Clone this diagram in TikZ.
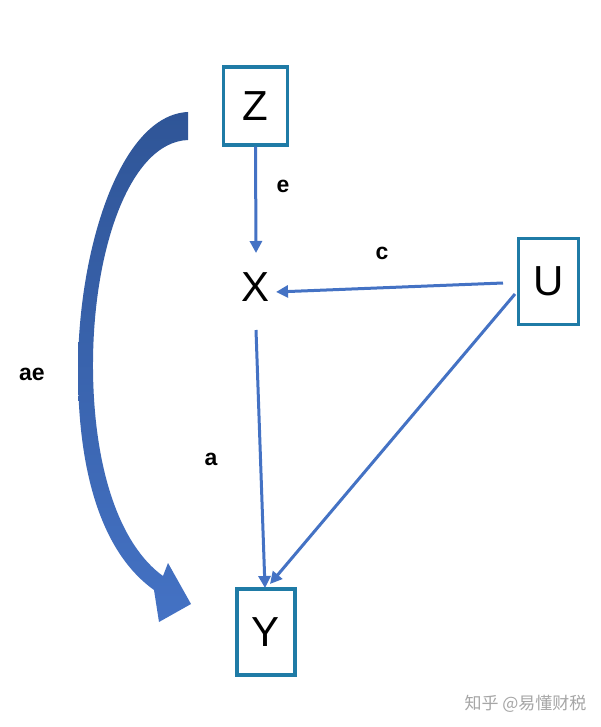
\documentclass[tikz,border=0pt]{standalone}
\usepackage{fontspec}
\setmainfont{Liberation Sans}
\newfontfamily\cjk{Noto Sans CJK SC}
\usetikzlibrary{arrows.meta}
\definecolor{boxc}{HTML}{1F7BA6}
\definecolor{arr}{HTML}{4472C4}
\definecolor{dk}{HTML}{2F5597}
\begin{document}
\begin{tikzpicture}[x=1pt,y=-1pt,
  vbox/.style={draw=boxc,line width=3.2pt,minimum width=64pt,minimum height=78pt,font=\fontsize{42}{42}\selectfont},
  lbl/.style={font=\bfseries\fontsize{23}{23}\selectfont},
  conn/.style={draw=arr,line width=3pt,-{Triangle[length=12pt,width=12pt]}}]
\useasboundingbox[fill=white] (0,0) rectangle (601,727);
\node[vbox] (Z) at (255.5,106) {Z};
\node[vbox,minimum width=60pt,minimum height=86pt] (U) at (548.5,281.5) {U};
\node[vbox,minimum width=58pt,minimum height=86pt] (Y) at (266,632) {Y};
\node[font=\fontsize{42}{42}\selectfont] (X) at (256,287) {X};
\coordinate (xt) at (256,253);
\coordinate (xr) at (276,292);
\coordinate (xb) at (256,330);
\coordinate (ut) at (503,283);
\coordinate (ub) at (515,294);
\coordinate (yt) at (265,588);
\coordinate (yt2) at (270,584);
\draw[conn] (Z.south) -- (xt);
\draw[conn] (ut) -- (xr);
\draw[conn] (xb) -- (yt);
\draw[conn] (ub) -- (yt2);
\node[lbl] (le) at (283,186) {e};
\node[lbl] (lc) at (382,253) {c};
\node[lbl] (la) at (211,459) {a};
\node[lbl] (lae) at (32,374) {ae};
\shade[top color=dk,bottom color=arr]
 (188,112) .. controls (120,115) and (78,250) .. (78,370)
 .. controls (78,480) and (105,555) .. (154,590)
 -- (159,622) -- (191,604) -- (168,563) -- (163,576)
 .. controls (120,545) and (94,470) .. (93,370)
 .. controls (92,250) and (130,142) .. (188,140) -- cycle;
\node[text=gray!70,font=\cjk\fontsize{17}{17}\selectfont,anchor=east] (wm) at (590,704) {知乎 @易懂财税};
\end{tikzpicture}
\end{document}
